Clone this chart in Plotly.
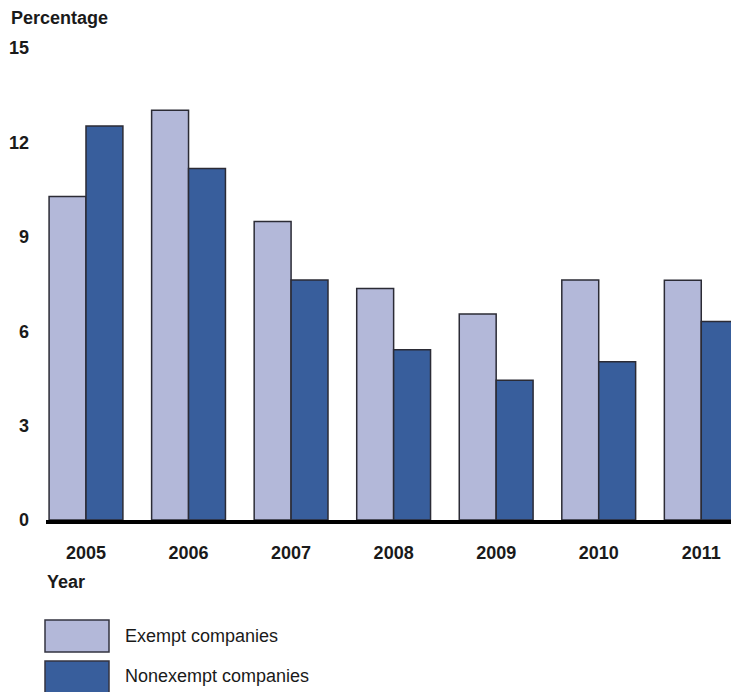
import plotly.graph_objects as go

years = ["2005", "2006", "2007", "2008", "2009", "2010", "2011"]
exempt = [10.28, 13.02, 9.49, 7.36, 6.55, 7.63, 7.62]
nonexempt = [12.52, 11.17, 7.63, 5.41, 4.44, 5.03, 6.31]
y_ticks = [0, 3, 6, 9, 12, 15]

EXEMPT_COLOR = "#b3b8d9"
NONEXEMPT_COLOR = "#385e9c"
OUTLINE = "#2b2b35"
FONT = "Liberation Sans, Arial, sans-serif"
FS = 18

W, H = 731, 692
L, R, T, B = 46, 731, 48, 520  # plot area in pixels


def px_x(px):
    return (px - L) / (R - L)


def px_y(py):
    return (B - py) / (B - T)


fig = go.Figure()
fig.add_trace(go.Bar(x=years, y=exempt, name="Exempt companies",
                     marker=dict(color=EXEMPT_COLOR, line=dict(color=OUTLINE, width=1.5))))
fig.add_trace(go.Bar(x=years, y=nonexempt, name="Nonexempt companies",
                     marker=dict(color=NONEXEMPT_COLOR, line=dict(color=OUTLINE, width=1.5))))

fig.update_layout(
    width=W, height=H,
    margin=dict(l=L, r=W - R, t=T, b=H - B, pad=0),
    plot_bgcolor="white", paper_bgcolor="white",
    barmode="group", bargap=0.28, bargroupgap=0,
    showlegend=False,
    font=dict(family=FONT, size=FS, color="#1a1a1a"),
    xaxis=dict(type="category", range=[-0.39, 6.29], showgrid=False, zeroline=False,
               showline=True, linewidth=4, linecolor="black", ticks="",
               tickfont=dict(family=FONT, size=FS, color="#1a1a1a", weight="bold"),
               ticklabelstandoff=13),
    yaxis=dict(range=[0, 15], tickvals=y_ticks, ticktext=[str(v) for v in y_ticks],
               showgrid=False, zeroline=False, showline=False, ticks="",
               tickfont=dict(family=FONT, size=FS, color="#1a1a1a", weight="bold"),
               ticklabelstandoff=16),
)

annotations = [
    dict(text="<b>Percentage</b>", x=px_x(9), y=px_y(18), xanchor="left", yanchor="middle"),
    dict(text="<b>Year</b>", x=px_x(45), y=px_y(582), xanchor="left", yanchor="middle"),
    dict(text="Exempt companies", x=px_x(123), y=px_y(636), xanchor="left", yanchor="middle"),
    dict(text="Nonexempt companies", x=px_x(123), y=px_y(676), xanchor="left", yanchor="middle"),
]
for a in annotations:
    a.update(xref="paper", yref="paper", showarrow=False,
             font=dict(family=FONT, size=FS, color="#1a1a1a"))
fig.update_layout(annotations=annotations)

fig.add_shape(type="rect", xref="paper", yref="paper",
              x0=px_x(45), x1=px_x(109), y0=px_y(620), y1=px_y(652),
              fillcolor=EXEMPT_COLOR, line=dict(color="#333340", width=1.5))
fig.add_shape(type="rect", xref="paper", yref="paper",
              x0=px_x(45), x1=px_x(109), y0=px_y(661), y1=px_y(694),
              fillcolor=NONEXEMPT_COLOR, line=dict(color="#333340", width=1.5))

fig.write_html("out.html")
